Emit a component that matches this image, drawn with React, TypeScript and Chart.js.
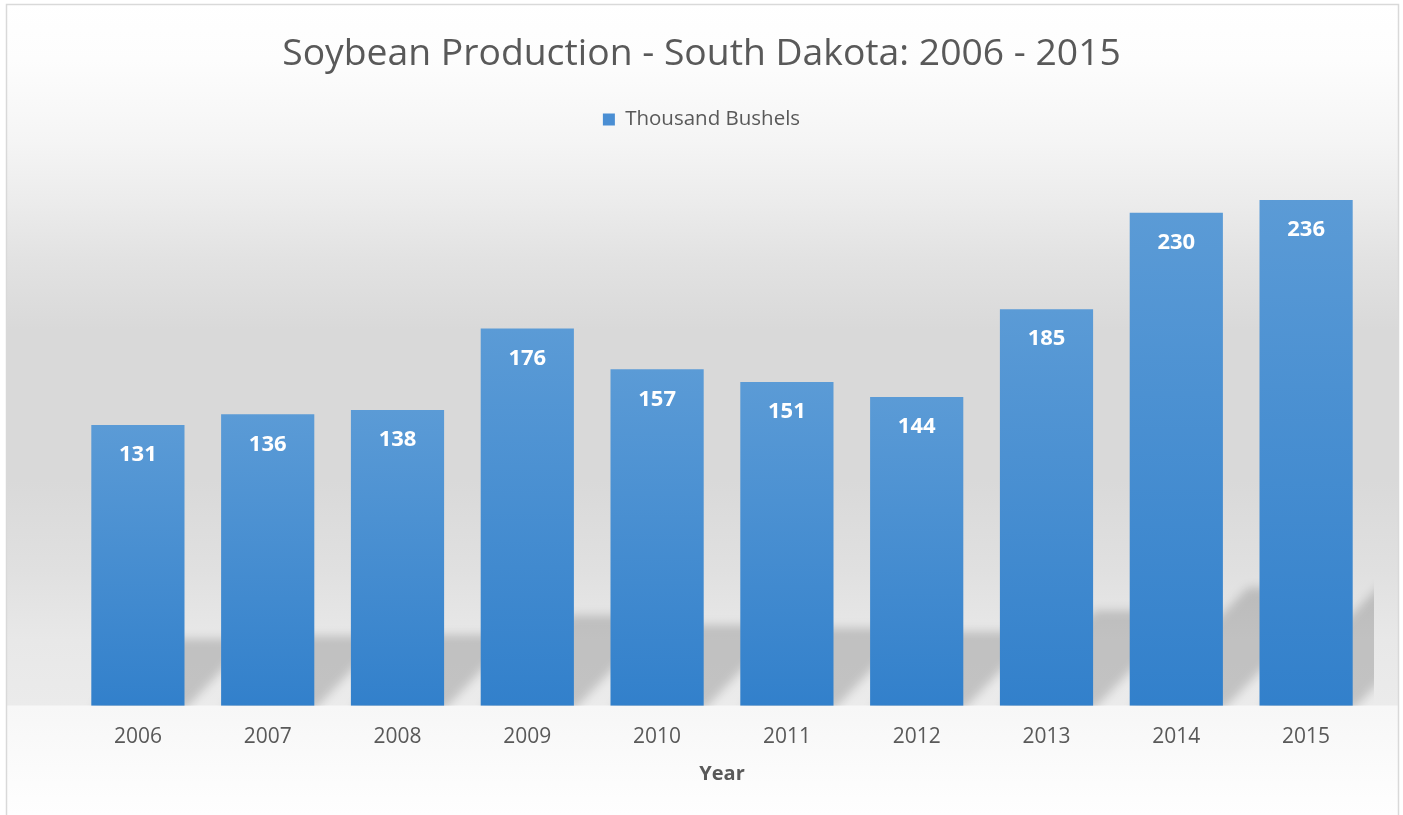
import React, { useEffect, useRef } from "react";
import { Chart, registerables } from "chart.js";

Chart.register(...registerables);

const categories = ["2006", "2007", "2008", "2009", "2010", "2011", "2012", "2013", "2014", "2015"];
const values = [131, 136, 138, 176, 157, 151, 144, 185, 230, 236];
const seriesLabel = "Thousand Bushels";
const chartTitle = "Soybean Production - South Dakota: 2006 - 2015";
const xAxisTitle = "Year";
const yMin = 0;
const yMax = 264;

const FONT = "'Open Sans', 'DejaVu Sans', sans-serif";
const TEXT = "#595959";

const backgroundPlugin = {
  id: "bgPlugin",
  beforeDraw(chart: any) {
    const { ctx, width, height } = chart;
    ctx.save();
    ctx.fillStyle = "#ffffff";
    ctx.fillRect(0, 0, width, height);
    const base = chart.scales.y.getPixelForValue(0);
    const stops: [number, string][] = [
      [0, "#ffffff"],
      [60, "#fdfdfd"],
      [140, "#f5f5f5"],
      [200, "#ececec"],
      [260, "#e2e2e2"],
      [330, "#d9d9d9"],
      [480, "#d9d9d9"],
      [570, "#e0e0e0"],
      [640, "#e8e8e8"],
      [706, "#ebebeb"],
    ];
    const g = ctx.createLinearGradient(0, 0, 0, base);
    stops.forEach(([p, c]) => g.addColorStop(Math.min(1, p / 706), c));
    ctx.fillStyle = g;
    ctx.fillRect(7, 5, 1391, base - 5);
    const f = ctx.createLinearGradient(0, base, 0, height);
    f.addColorStop(0, "#f7f7f7");
    f.addColorStop(1, "#fefefe");
    ctx.fillStyle = f;
    ctx.fillRect(7, base, 1391, height - base);
    ctx.strokeStyle = "#d9d9d9";
    ctx.lineWidth = 1.5;
    ctx.strokeRect(6.5, 4.5, 1392, height + 20);
    ctx.restore();
  },
};

const shadowPlugin = {
  id: "shadowPlugin",
  beforeDatasetsDraw(chart: any) {
    const { ctx, chartArea } = chart;
    const meta = chart.getDatasetMeta(0);
    ctx.save();
    ctx.beginPath();
    ctx.rect(chartArea.left, chartArea.top, chartArea.right - chartArea.left + 3, chartArea.bottom - chartArea.top);
    ctx.clip();
    ctx.filter = "blur(5px)";
    ctx.fillStyle = "rgba(0,0,0,0.17)";
    meta.data.forEach((bar: any) => {
      const { x, y, base, width } = bar.getProps(["x", "y", "base", "width"], true);
      const h = base - y;
      const sh = h * 0.24;
      const sx = sh * 1.0;
      const l = x - width / 2;
      const r = x + width / 2;
      ctx.beginPath();
      ctx.moveTo(l, base + 4);
      ctx.lineTo(r, base + 4);
      ctx.lineTo(r + sx, base - sh);
      ctx.lineTo(l + sx, base - sh);
      ctx.closePath();
      ctx.fill();
    });
    ctx.restore();
  },
};

const labelPlugin = {
  id: "labelPlugin",
  afterDatasetsDraw(chart: any) {
    const { ctx } = chart;
    const meta = chart.getDatasetMeta(0);
    ctx.save();
    ctx.fillStyle = "#ffffff";
    ctx.font = `bold 22px ${FONT}`;
    ctx.textAlign = "center";
    ctx.textBaseline = "middle";
    meta.data.forEach((bar: any, i: number) => {
      const { x, y } = bar.getProps(["x", "y"], true);
      ctx.fillText(String(values[i]), x, y + 30);
    });
    ctx.restore();
  },
};

export default function App() {
  const ref = useRef<HTMLCanvasElement | null>(null);

  useEffect(() => {
    if (!ref.current) return;
    const chart = new Chart(ref.current, {
      type: "bar",
      data: {
        labels: categories,
        datasets: [
          {
            label: seriesLabel,
            data: values,
            backgroundColor: (c: any) => {
              const ch = c.chart;
              const ys = ch.scales && ch.scales.y;
              if (!ys || c.type !== "data") return "#4a8ed3";
              const top = ys.getPixelForValue(c.raw);
              const bot = ys.getPixelForValue(0);
              if (!isFinite(top) || !isFinite(bot) || top === bot) return "#4a8ed3";
              const g = ch.ctx.createLinearGradient(0, top, 0, bot);
              g.addColorStop(0, "#5b9bd6");
              g.addColorStop(1, "#3280cb");
              return g;
            },
            borderWidth: 0,
            barPercentage: 0.718,
            categoryPercentage: 1,
          },
        ],
      },
      options: {
        animation: false,
        responsive: false,
        devicePixelRatio: 1,
        layout: { padding: { top: 8, left: 32, right: 32, bottom: 19 } },
        plugins: {
          title: {
            display: true,
            text: chartTitle,
            color: TEXT,
            font: { family: FONT, size: 37.3, weight: "normal" },
            padding: { top: 24, bottom: 22.6 },
          },
          legend: {
            display: true,
            position: "top",
            labels: {
              color: TEXT,
              font: { family: FONT, size: 20.5 },
              boxWidth: 12,
              boxHeight: 12,
              padding: 10,
              generateLabels: () => [
                {
                  text: seriesLabel,
                  fillStyle: "#4a8ed3",
                  strokeStyle: "#4a8ed3",
                  fontColor: TEXT,
                  lineWidth: 0,
                  hidden: false,
                  datasetIndex: 0,
                },
              ],
            },
          },
          tooltip: { enabled: false },
        },
        scales: {
          x: {
            grid: { display: false, drawTicks: false },
            border: { display: false },
            ticks: { color: TEXT, font: { family: FONT, size: 21 }, padding: 19 },
            title: {
              display: true,
              text: xAxisTitle,
              color: TEXT,
              font: { family: FONT, size: 20, weight: "bold" },
              padding: { top: -7, bottom: 10 },
            },
          },
          y: {
            display: true,
            min: yMin,
            max: yMax,
            grid: { display: false, drawTicks: false },
            border: { display: false },
            ticks: { display: false },
            afterFit: (s: any) => {
              s.width = 41;
            },
          },
        },
      },
      plugins: [backgroundPlugin, shadowPlugin, labelPlugin],
    });
    return () => chart.destroy();
  }, []);

  return (
    <div style={{ position: "fixed", left: 0, top: 0, width: 1403, height: 815, background: "#fff" }}>
      <canvas ref={ref} width={1403} height={815} style={{ display: "block" }} />
    </div>
  );
}
